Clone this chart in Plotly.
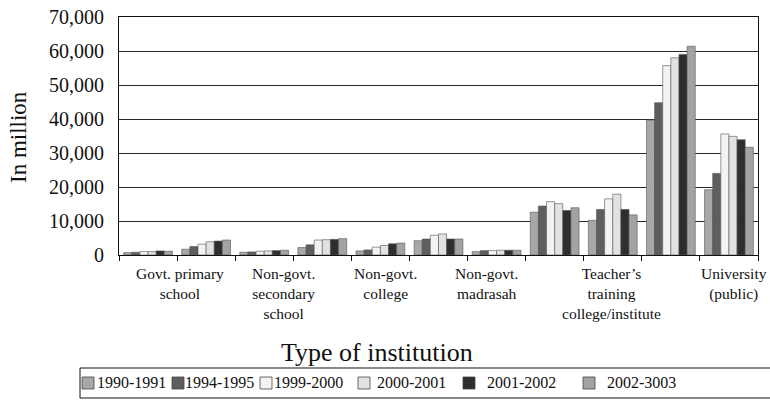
import plotly.graph_objects as go

# Spending by type of institution, six fiscal years (in million)
years = ["1990-1991", "1994-1995", "1999-2000", "2000-2001", "2001-2002", "2002-3003"]
colors = ["#a8a8a8", "#5e5e5e", "#f3f3f3", "#e2e2e2", "#2e2e2e", "#a3a3a3"]

# eleven bar clusters along the category axis
cluster_pos = [0.5, 1.5, 2.5, 3.5, 4.5, 5.5, 6.5, 7.5, 8.5, 9.5, 10.5]
values = {
    "1990-1991": [700, 1700, 800, 2200, 1200, 4200, 1000, 12600, 10200, 39700, 19200],
    "1994-1995": [800, 2500, 900, 3000, 1500, 4700, 1300, 14400, 13400, 44800, 24000],
    "1999-2000": [1000, 3200, 1100, 4400, 2300, 5800, 1300, 15700, 16500, 55700, 35600],
    "2000-2001": [1000, 3900, 1200, 4500, 2800, 6200, 1400, 15100, 17900, 58000, 34900],
    "2001-2002": [1200, 4100, 1300, 4600, 3300, 4700, 1400, 13100, 13400, 59000, 33900],
    "2002-3003": [1100, 4400, 1400, 4800, 3500, 4700, 1400, 13900, 11800, 61400, 31700],
}

# institution labels and where they sit along the category axis
institutions = [
    "Govt. primary<br>school",
    "Non-govt.<br>secondary<br>school",
    "Non-govt.<br>college",
    "Non-govt.<br>madrasah",
    "Teacher’s<br>training<br>college/institute",
    "University<br>(public)",
]
institution_pos = [1.05, 2.84, 4.58, 6.33, 8.47, 10.59]

y_ticks = [0, 10000, 20000, 30000, 40000, 50000, 60000, 70000]
y_tick_text = ["0", "10,000", "20,000", "30,000", "40,000", "50,000", "60,000", "70,000"]

W, H = 770, 414
L, R, T, B = 119, 758, 17, 255  # plot area in pixels


def px_x(px):
    return (px - L) / (R - L)


def px_y(py):
    return (B - py) / (B - T)


SERIF = "Liberation Serif, Times New Roman, serif"
INK = "#111111"

fig = go.Figure()
for yr, col in zip(years, colors):
    fig.add_trace(go.Bar(
        x=cluster_pos, y=values[yr], name=yr,
        marker=dict(color=col, line=dict(color="#555555", width=0.6)),
    ))

fig.update_layout(
    width=W, height=H,
    margin=dict(l=L, r=W - R, t=T, b=H - B, pad=0, autoexpand=False),
    paper_bgcolor="white", plot_bgcolor="white",
    barmode="group", bargap=0.16, bargroupgap=0,
    font=dict(family=SERIF, color=INK, size=15),
    showlegend=False,
)

fig.update_xaxes(
    range=[0, 11], tickmode="array", tickvals=list(range(12)),
    ticktext=[""] * 12, ticks="outside", ticklen=5, tickcolor=INK,
    showline=True, linecolor=INK, linewidth=1, mirror=True,
    showgrid=False, zeroline=False, fixedrange=True,
)
fig.update_yaxes(
    range=[0, 70000], tickmode="array", tickvals=y_ticks, ticktext=y_tick_text,
    tickfont=dict(family=SERIF, size=20, color=INK), ticklabelstandoff=10,
    ticks="", showline=True, linecolor=INK, linewidth=1, mirror=True,
    showgrid=True, gridcolor="#2a2a2a", gridwidth=1.3, zeroline=False,
    fixedrange=True,
)

# category labels under the axis
for text, pos in zip(institutions, institution_pos):
    fig.add_annotation(
        x=pos, xref="x", y=px_y(263), yref="paper", text=text,
        showarrow=False, xanchor="center", yanchor="top", align="center",
        font=dict(family=SERIF, size=15.5, color=INK),
    )

# axis titles
fig.add_annotation(
    x=px_x(377), y=px_y(352), xref="paper", yref="paper",
    xanchor="center", yanchor="middle",
    text="Type of institution", showarrow=False,
    font=dict(family=SERIF, size=26, color=INK),
)
fig.add_annotation(
    x=px_x(18), y=px_y(137), xref="paper", yref="paper",
    xanchor="center", yanchor="middle",
    text="In million", textangle=-90, showarrow=False,
    font=dict(family=SERIF, size=23, color=INK),
)

# legend: frame, colour keys and year labels
fig.add_shape(
    type="rect", xref="paper", yref="paper",
    x0=px_x(80), x1=px_x(790), y0=px_y(368), y1=px_y(398),
    line=dict(color=INK, width=1),
)
key_left = [82, 172, 260, 358, 463, 583]
text_left = [95, 183, 272, 375, 485, 605]
for yr, col, kx, tx in zip(years, colors, key_left, text_left):
    fig.add_shape(
        type="rect", xref="paper", yref="paper",
        x0=px_x(kx), x1=px_x(kx + 12), y0=px_y(389), y1=px_y(377),
        fillcolor=col, line=dict(color="#444444", width=0.8),
    )
    fig.add_annotation(
        x=px_x(tx), y=px_y(383), xref="paper", yref="paper",
        text=yr, showarrow=False, xanchor="left", yanchor="middle",
        font=dict(family=SERIF, size=16, color=INK),
    )

fig.write_html("out.html")
